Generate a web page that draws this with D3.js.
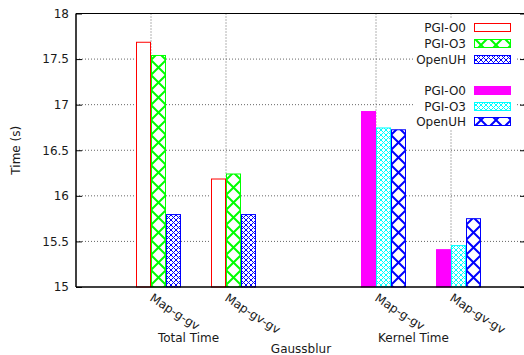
<!DOCTYPE html>
<html>
<head>
<meta charset="utf-8">
<script src="https://cdn.jsdelivr.net/npm/d3@7"></script>
<style>
  body { margin: 0; background: #fff; }
  text { font-family: "DejaVu Sans", sans-serif; font-size: 12px; fill: #1a1a1a; }
</style>
</head>
<body>
<div id="chart"></div>
<script>
// data
const groups = ["Total Time", "Kernel Time"];
const categories = ["Map-g-gv", "Map-gv-gv"];
const totalSeries = ["PGI-O0", "PGI-O3", "OpenUH"];
const totalPgiO0 = [17.69, 16.19];
const totalPgiO3 = [17.545, 16.245];
const totalOpenUH = [15.80, 15.80];
const kernelSeries = ["PGI-O0", "PGI-O3", "OpenUH"];
const kernelPgiO0 = [16.93, 15.415];
const kernelPgiO3 = [16.75, 15.46];
const kernelOpenUH = [16.73, 15.755];
const yTicks = [15, 15.5, 16, 16.5, 17, 17.5, 18];
const superTitle = "Gaussblur";
const yTitle = "Time (s)";

const W = 524, H = 355;
const plot = {left: 76, right: 526, top: 13.5, bottom: 287};

const svg = d3.select('#chart').append('svg')
  .attr('width', W).attr('height', H);

const defs = svg.append('defs');

// fill patterns (gnuplot style)
function bigCross(id, color, lw) {
  const p = defs.append('pattern').attr('id', id)
    .attr('patternUnits', 'userSpaceOnUse')
    .attr('x', 1).attr('y', 0).attr('width', 15).attr('height', 15);
  p.append('rect').attr('width', 15).attr('height', 15).attr('fill', '#fff');
  p.append('path').attr('d', 'M0,0L15,15M15,0L0,15M-1,14L1,16M14,-1L16,1M14,16L16,14M-1,1L1,-1')
    .attr('stroke', color).attr('stroke-width', lw).attr('fill', 'none');
}
function fineCross(id, color) {
  const p = defs.append('pattern').attr('id', id)
    .attr('patternUnits', 'userSpaceOnUse')
    .attr('x', 1).attr('y', 0).attr('width', 5).attr('height', 5);
  p.append('rect').attr('width', 5).attr('height', 5).attr('fill', '#fff');
  p.append('path').attr('d', 'M0,0L5,5M5,0L0,5')
    .attr('stroke', color).attr('stroke-width', 1).attr('fill', 'none');
}
bigCross('pGreen', '#00ff00', 2);
fineCross('pBlueFine', '#0000ff');
fineCross('pCyanFine', '#00ffff');
bigCross('pBlueBig', '#0000ff', 2);

const styles = [
  [{fill: '#fff', stroke: '#ff0000'}, {fill: 'url(#pGreen)', stroke: '#00ff00'}, {fill: 'url(#pBlueFine)', stroke: '#0000ff'}],
  [{fill: '#ff00ff', stroke: '#ff00ff'}, {fill: 'url(#pCyanFine)', stroke: '#00ffff'}, {fill: 'url(#pBlueBig)', stroke: '#0000ff'}]
];

// scales
const x = d3.scaleLinear().domain([0, 6]).range([plot.left, plot.right]);
const y = d3.scaleLinear().domain([15, 18]).range([plot.bottom, plot.top]);

// tick position for group g, category c
const pos = (g, c) => g * 3 + c + 1;
const barW = 0.2;

// grid
const g = svg.append('g');
yTicks.filter(t => t > 15 && t < 18).forEach(t => {
  g.append('line')
    .attr('x1', plot.left).attr('x2', plot.right)
    .attr('y1', y(t)).attr('y2', y(t))
    .attr('stroke', '#666').attr('stroke-dasharray', '1,2');
});
groups.forEach((gr, gi) => categories.forEach((c, ci) => {
  g.append('line')
    .attr('x1', x(pos(gi, ci))).attr('x2', x(pos(gi, ci)))
    .attr('y1', plot.top).attr('y2', plot.bottom)
    .attr('stroke', '#666').attr('stroke-dasharray', '1,2');
}));

// bars
const seriesData = [
  [totalPgiO0, totalPgiO3, totalOpenUH],
  [kernelPgiO0, kernelPgiO3, kernelOpenUH]
];
const bars = [];
seriesData.forEach((grp, gi) => grp.forEach((vals, si) => vals.forEach((v, ci) => {
  bars.push({gi, si, ci, v});
})));

g.selectAll('rect.bar').data(bars).enter().append('rect')
  .attr('class', 'bar')
  .attr('x', d => x(pos(d.gi, d.ci) + (d.si - 1) * barW) + 0.5)
  .attr('width', d => x(barW) - x(0) - 1)
  .attr('y', d => y(d.v) + 0.5)
  .attr('height', d => y(15) - y(d.v) - 0.5)
  .attr('fill', d => styles[d.gi][d.si].fill)
  .attr('stroke', d => styles[d.gi][d.si].stroke)
  .attr('stroke-width', 1);

// legend (opaque key box)
g.append('rect').attr('x', 415).attr('y', 18).attr('width', 101).attr('height', 111).attr('fill', '#fff');
const legendRows = [27, 43, 59, 90, 106, 121];
const legendItems = totalSeries.map((s, i) => ({name: s, st: styles[0][i]}))
  .concat(kernelSeries.map((s, i) => ({name: s, st: styles[1][i]})));
legendItems.forEach((d, i) => {
  const ly = legendRows[i];
  g.append('text').attr('x', 466).attr('y', ly + 4.5)
    .attr('text-anchor', 'end').text(d.name);
  g.append('rect').attr('x', 474.5).attr('y', ly - 3.5)
    .attr('width', 36).attr('height', 8)
    .attr('fill', d.st.fill).attr('stroke', d.st.stroke).attr('stroke-width', 1);
});

// axes + border
const yAxis = d3.axisLeft(y).tickValues(yTicks).tickSize(-6).tickPadding(7)
  .tickFormat(d3.format('~g'));
const gy = svg.append('g').attr('transform', `translate(${plot.left},0)`).call(yAxis);
gy.select('.domain').remove();
gy.selectAll('.tick line').attr('stroke', '#000');
gy.selectAll('.tick text').attr('font-size', 12).attr('font-family', '"DejaVu Sans", sans-serif').attr('fill', '#1a1a1a');

const yAxisR = d3.axisRight(y).tickValues(yTicks).tickSize(-6).tickFormat('');
const gyr = svg.append('g').attr('transform', `translate(${plot.right},0)`).call(yAxisR);
gyr.select('.domain').remove();
gyr.selectAll('.tick line').attr('stroke', '#000');

svg.append('line').attr('x1', plot.left).attr('x2', plot.left)
  .attr('y1', plot.top).attr('y2', plot.bottom).attr('stroke', '#000').attr('stroke-width', 1.5);
svg.append('line').attr('x1', plot.left).attr('x2', plot.right)
  .attr('y1', plot.top).attr('y2', plot.top).attr('stroke', '#000').attr('stroke-width', 1.2);
svg.append('line').attr('x1', plot.left).attr('x2', plot.right)
  .attr('y1', plot.bottom).attr('y2', plot.bottom).attr('stroke', '#000').attr('stroke-width', 1.5);

// category labels (rotated)
groups.forEach((gr, gi) => categories.forEach((c, ci) => {
  const tx = x(pos(gi, ci)) - 2, ty = 300;
  svg.append('text').attr('transform', `translate(${tx},${ty}) rotate(33)`)
    .text(c);
}));

// group labels
groups.forEach((gr, gi) => {
  svg.append('text').attr('x', x((pos(gi, 0) + pos(gi, 1)) / 2)).attr('y', 342)
    .attr('text-anchor', 'middle').text(gr);
});
svg.append('text').attr('x', x((pos(0, 0) + pos(1, 1)) / 2)).attr('y', 352.5)
  .attr('text-anchor', 'middle').text(superTitle);

svg.append('text')
  .attr('transform', `translate(20,${(plot.top + plot.bottom) / 2}) rotate(-90)`)
  .attr('text-anchor', 'middle').text(yTitle);
</script>
</body>
</html>
